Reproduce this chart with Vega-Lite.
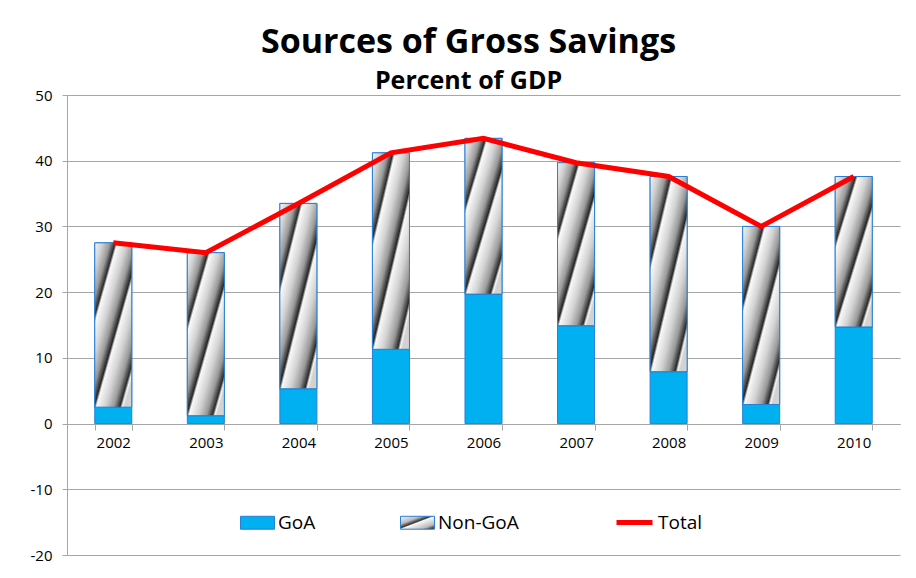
{
  "$schema": "https://vega.github.io/schema/vega-lite/v6.json",
  "width": 833,
  "height": 460,
  "autosize": {"type": "none"},
  "padding": {"left": 67, "top": 95, "right": 16, "bottom": 23},
  "background": "white",
  "title": {
    "text": "Sources of Gross Savings",
    "subtitle": "Percent of GDP",
    "anchor": "middle",
    "frame": "group",
    "dx": -15,
    "font": "Open Sans",
    "fontSize": 34,
    "fontWeight": "bold",
    "color": "#000000",
    "subtitleFont": "Open Sans",
    "subtitleFontSize": 25,
    "subtitleFontWeight": "bold",
    "subtitleColor": "#000000",
    "subtitlePadding": 9,
    "offset": -6
  },
  "datasets": {
    "bars": [
      {"year": "2002", "series": "GoA", "value": 2.5},
      {"year": "2003", "series": "GoA", "value": 1.2},
      {"year": "2004", "series": "GoA", "value": 5.3},
      {"year": "2005", "series": "GoA", "value": 11.3},
      {"year": "2006", "series": "GoA", "value": 19.7},
      {"year": "2007", "series": "GoA", "value": 14.9},
      {"year": "2008", "series": "GoA", "value": 7.9},
      {"year": "2009", "series": "GoA", "value": 2.9},
      {"year": "2010", "series": "GoA", "value": 14.7},
      {"year": "2002", "series": "Non-GoA", "value": 25.0},
      {"year": "2003", "series": "Non-GoA", "value": 24.8},
      {"year": "2004", "series": "Non-GoA", "value": 28.2},
      {"year": "2005", "series": "Non-GoA", "value": 29.9},
      {"year": "2006", "series": "Non-GoA", "value": 23.7},
      {"year": "2007", "series": "Non-GoA", "value": 24.8},
      {"year": "2008", "series": "Non-GoA", "value": 29.7},
      {"year": "2009", "series": "Non-GoA", "value": 27.1},
      {"year": "2010", "series": "Non-GoA", "value": 22.9}
    ],
    "totals": [
      {"year": "2002", "series": "Total", "total": 27.5},
      {"year": "2003", "series": "Total", "total": 26.0},
      {"year": "2004", "series": "Total", "total": 33.5},
      {"year": "2005", "series": "Total", "total": 41.2},
      {"year": "2006", "series": "Total", "total": 43.4},
      {"year": "2007", "series": "Total", "total": 39.7},
      {"year": "2008", "series": "Total", "total": 37.6},
      {"year": "2009", "series": "Total", "total": 30.0},
      {"year": "2010", "series": "Total", "total": 37.6}
    ]
  },
  "encoding": {
    "x": {
      "field": "year",
      "type": "nominal",
      "scale": {"paddingInner": 0.6, "paddingOuter": 0.3},
      "axis": {
        "title": null,
        "labelAngle": 0,
        "offset": -131,
        "tickBand": "extent",
        "domainColor": "#a6a6a6",
        "tickColor": "#a6a6a6",
        "tickSize": 6,
        "labelFont": "Open Sans",
        "labelFontSize": 15,
        "labelColor": "#000000",
        "labelPadding": 5,
        "grid": false
      }
    }
  },
  "layer": [
    {
      "data": {"name": "bars"},
      "transform": [
        {"stack": "value", "groupby": ["year"], "sort": [{"field": "series", "order": "ascending"}], "as": ["v0", "v1"]}
      ],
      "layer": [
        {
          "mark": {"type": "bar", "fill": "#00b0f0", "stroke": "#2a7fd4", "strokeWidth": 1},
          "encoding": {
            "y": {
              "field": "v0",
              "type": "quantitative",
              "scale": {"domain": [-20, 50], "nice": false},
              "axis": {
                "title": null,
                "values": [-20, -10, 0, 10, 20, 30, 40, 50],
                "labelExpr": "toString(datum.value)",
                "grid": true,
                "gridColor": "#a6a6a6",
                "domainColor": "#a6a6a6",
                "tickColor": "#a6a6a6",
                "tickSize": 5,
                "labelFont": "Open Sans",
                "labelFontSize": 15,
                "labelColor": "#000000",
                "labelPadding": 10
              }
            },
            "y2": {"field": "v1"},
            "opacity": {
              "field": "series",
              "type": "nominal",
              "scale": {"domain": ["GoA", "Non-GoA"], "range": [1, 1]},
              "legend": {
                "title": null,
                "orient": "none",
                "legendX": 173,
                "legendY": 410,
                "direction": "horizontal",
                "symbolType": "M-1,-0.38H1V0.38H-1Z",
                "symbolSize": 1156,
                "symbolStrokeColor": "#2a7fd4",
                "symbolStrokeWidth": 1,
                "labelFont": "Open Sans",
                "labelFontSize": 19,
                "labelColor": "#000000",
                "labelOffset": 3,
                "columnPadding": 82,
                "encoding": {
                  "symbols": {
                    "fill": {
                      "condition": {
                        "test": "datum.value === 'Non-GoA'",
                        "value": {
                          "gradient": "linear",
                          "x1": 0, "y1": 0, "x2": 1, "y2": 1,
                          "stops": [
                            {"offset": 0, "color": "#f4f4f4"},
                            {"offset": 0.3, "color": "#bbbbbb"},
                            {"offset": 0.45, "color": "#333333"},
                            {"offset": 0.5, "color": "#f8f8f8"},
                            {"offset": 0.8, "color": "#bbbbbb"},
                            {"offset": 0.95, "color": "#333333"},
                            {"offset": 1, "color": "#f4f4f4"}
                          ]
                        }
                      },
                      "value": "#00b0f0"
                    },
                    "stroke": {"value": "#2a7fd4"}
                  }
                }
              }
            }
          }
        },
        {
          "transform": [{"filter": "datum.series === 'Non-GoA'"}],
          "mark": {
            "type": "bar",
            "stroke": "#2a7fd4",
            "strokeWidth": 1,
            "fill": {
              "gradient": "linear",
              "x1": 0, "y1": 0, "x2": 0.8, "y2": 1,
              "stops": [
                {"offset": 0, "color": "#f4f4f4"},
                {"offset": 0.1, "color": "#d2d2d2"},
                {"offset": 0.2, "color": "#999999"},
                {"offset": 0.27, "color": "#2a2a2a"},
                {"offset": 0.3, "color": "#fafafa"},
                {"offset": 0.42, "color": "#d2d2d2"},
                {"offset": 0.52, "color": "#999999"},
                {"offset": 0.6, "color": "#252525"},
                {"offset": 0.63, "color": "#f8f8f8"},
                {"offset": 0.75, "color": "#d2d2d2"},
                {"offset": 0.86, "color": "#999999"},
                {"offset": 0.94, "color": "#2a2a2a"},
                {"offset": 0.97, "color": "#f4f4f4"},
                {"offset": 1, "color": "#d2d2d2"}
              ]
            }
          },
          "encoding": {
            "y": {"field": "v0", "type": "quantitative"},
            "y2": {"field": "v1"}
          }
        }
      ]
    },
    {
      "data": {"name": "totals"},
      "mark": {"type": "line", "strokeWidth": 5, "strokeJoin": "miter"},
      "encoding": {
        "y": {"field": "total", "type": "quantitative"},
        "stroke": {
          "field": "series",
          "type": "nominal",
          "scale": {"domain": ["Total"], "range": ["#ff0000"]},
          "legend": {
            "title": null,
            "orient": "none",
            "legendX": 547,
            "legendY": 407,
            "symbolType": "M-1,0H1",
            "symbolSize": 1296,
            "symbolStrokeWidth": 5,
            "labelFont": "Open Sans",
            "labelFontSize": 19,
            "labelColor": "#000000",
            "labelOffset": 3
          }
        }
      }
    }
  ],
  "config": {
    "view": {"stroke": null}
  }
}
